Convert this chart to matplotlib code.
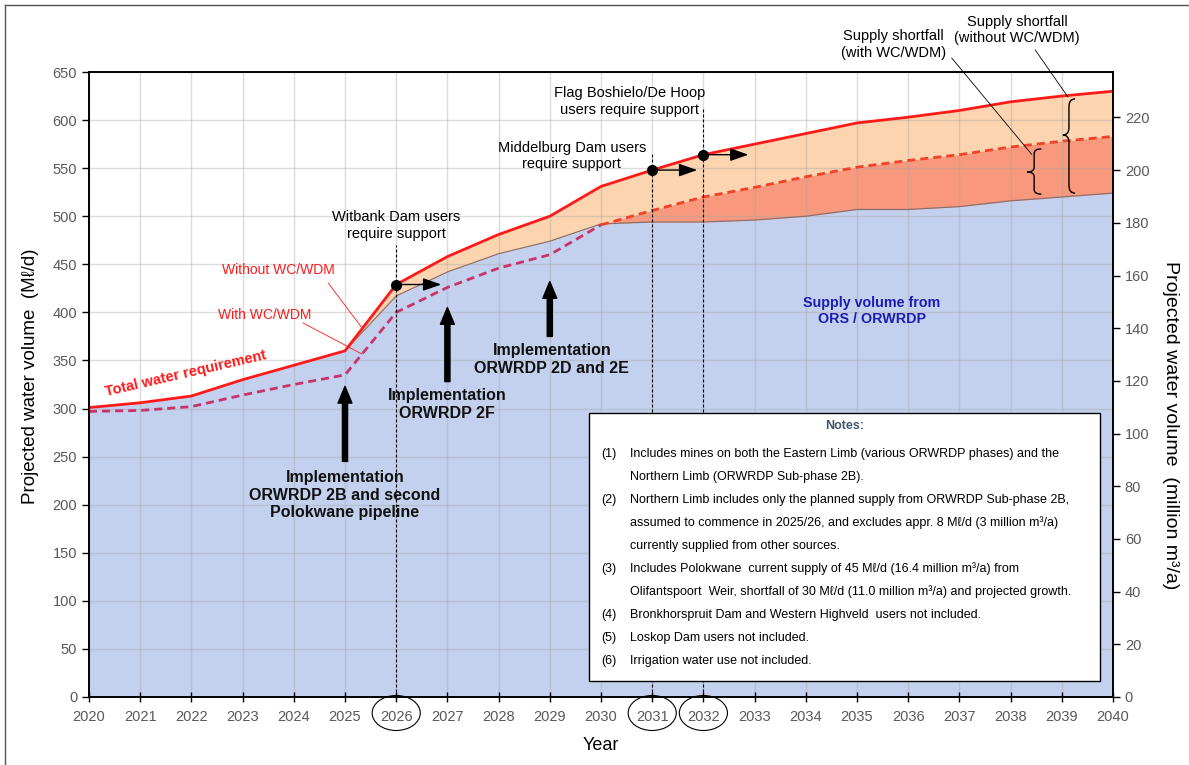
import matplotlib
matplotlib.use("Agg")
import matplotlib.pyplot as plt
import numpy as np
from matplotlib.path import Path
from matplotlib.patches import PathPatch, Ellipse, Rectangle
import matplotlib.transforms as mtrans

plt.rcParams['font.family'] = ['Liberation Sans', 'DejaVu Sans']

# ---------------- data ----------------
years = list(range(2020, 2041))
total_req = [301, 306, 313, 330, 345, 360, 429, 458, 481, 500, 531, 548, 564,
             575, 586, 597, 603, 610, 619, 625, 630]
with_wcwdm = [297, 298, 302, 314, 325, 335, 400, 426, 446, 460, 491, 506, 520,
              530, 541, 551, 558, 564, 572, 578, 583]
supply = [301, 306, 313, 330, 345, 360, 417, 442, 461, 474, 492, 494, 494,
          496, 500, 507, 507, 510, 516, 520, 524]
support_years = [2026, 2031, 2032]
support_labels = ["Witbank Dam users\nrequire support",
                  "Middelburg Dam users\nrequire support",
                  "Flag Boshielo/De Hoop\nusers require support"]
impl_years = [2025, 2027, 2029]
impl_labels = ["Implementation\nORWRDP 2B and second\nPolokwane pipeline",
               "Implementation\nORWRDP 2F",
               "Implementation\nORWRDP 2D and 2E"]
notes = [("(1)", "Includes mines on both the Eastern Limb (various ORWRDP phases) and the"),
         ("", "Northern Limb (ORWRDP Sub-phase 2B)."),
         ("(2)", "Northern Limb includes only the planned supply from ORWRDP Sub-phase 2B,"),
         ("", "assumed to commence in 2025/26, and excludes appr. 8 M\u2113/d (3 million m\u00b3/a)"),
         ("", "currently supplied from other sources."),
         ("(3)", "Includes Polokwane  current supply of 45 M\u2113/d (16.4 million m\u00b3/a) from"),
         ("", "Olifantspoort  Weir, shortfall of 30 M\u2113/d (11.0 million m\u00b3/a) and projected growth."),
         ("(4)", "Bronkhorspruit Dam and Western Highveld  users not included."),
         ("(5)", "Loskop Dam users not included."),
         ("(6)", "Irrigation water use not included.")]
yticks_left = list(range(0, 651, 50))
yticks_right = list(range(0, 221, 20))
m3_factor = 0.365

W, H = 1189, 765
fig = plt.figure(figsize=(W / 100, H / 100), dpi=100)
L, R, T, B = 89, 1113, 72, 697
ax = fig.add_axes([L / W, 1 - B / H, (R - L) / W, (B - T) / H])

def fx(px):
    return px / W

def fy(py):
    return 1 - py / H

yrs = np.array(years, float)
tot = np.array(total_req, float)
wc = np.array(with_wcwdm, float)
sup = np.array(supply, float)

BLUE = '#c3d1ef'
PEACH = '#fcd5b0'
SALMON = '#f8987c'

ax.fill_between(yrs, 0, sup, color=BLUE, lw=0, zorder=1)
ax.fill_between(yrs, sup, tot, color=PEACH, lw=0, zorder=1)
ax.fill_between(yrs, sup, wc, where=wc > sup, interpolate=True, color=SALMON, lw=0, zorder=1)
ax.plot(yrs[5:], sup[5:], color='#8a7070', lw=0.9, zorder=2)

ax.set_axisbelow('line')
ax.grid(True, color='#a6a6a6', alpha=0.4, lw=1.0)

ax.plot(yrs, tot, color='#ff1a1a', lw=2.0, zorder=4)
split = years.index(2030)
ax.plot(yrs[:split + 1], wc[:split + 1], color='#c8336a', lw=2.0,
        linestyle=(0, (2.9, 1.8)), zorder=4)
ax.plot(yrs[split:], wc[split:], color='#f0412a', lw=2.0,
        linestyle=(0, (2.9, 1.8)), zorder=4)

ax.set_xlim(2020, 2040)
ax.set_ylim(0, 650)
ax.set_xticks(years)
ax.set_yticks(yticks_left)
ax.tick_params(axis='y', direction='out', length=5, labelsize=10.5, labelcolor='#595959', width=1)
ax.tick_params(axis='x', direction='inout', length=7, labelsize=10.5, labelcolor='#595959', width=1, pad=6)
for s in ax.spines.values():
    s.set_linewidth(1.2)
    s.set_color('black')

ax2 = ax.twinx()
ax2.set_ylim(0, 650 * m3_factor)
ax2.set_yticks(yticks_right)
ax2.tick_params(axis='y', direction='out', length=5, labelsize=10.5, labelcolor='#595959', width=1)
for s in ax2.spines.values():
    s.set_linewidth(1.2)

fig.text(fx(31), fy(376), "Projected water volume  (M\u2113/d)", rotation=90,
         ha='center', va='center', fontsize=13.5)
fig.text(fx(1171), fy(425), "Projected water volume  (million m\u00b3/a)", rotation=270,
         ha='center', va='center', fontsize=14)
fig.text(fx(601), fy(746), "Year", ha='center', va='center', fontsize=13)

# circles around key years
btrans = mtrans.blended_transform_factory(ax.transData, fig.transFigure)
for yv in support_years:
    e = Ellipse((yv, fy(713)), 0.94, 35 / H, transform=btrans, fill=False,
                edgecolor='black', lw=0.8, clip_on=False)
    fig.add_artist(e)

# support annotations
text_pos = [(2026.0, 490), (2029.43, 562.7), (2030.55, 619)]
vline_top = [470, 567, 614]
for yv, lab, tp, vt in zip(support_years, support_labels, text_pos, vline_top):
    val = tot[years.index(yv)]
    ax.plot([yv, yv], [0, vt], color='black', lw=0.8, linestyle=(0, (2.7, 1.8)), zorder=5)
    ax.plot([yv], [val], 'o', color='black', ms=7, zorder=7)
    ax.annotate('', xy=(yv + 0.88, val), xytext=(yv, val),
                arrowprops=dict(arrowstyle='-|>,head_width=0.28,head_length=0.8',
                                color='black', lw=1.0, mutation_scale=14,
                                shrinkA=0, shrinkB=0), zorder=7)
    ax.text(tp[0], tp[1], lab, ha='center', va='center', fontsize=10.5,
            linespacing=1.25, zorder=8)

# implementation arrows
impl_arrow = [(245, 323), (328, 405), (375, 432)]
impl_text = [(2025.0, 210), (2027.0, 304), (2029.04, 351)]
for yv, lab, (a0, a1), tp in zip(impl_years, impl_labels, impl_arrow, impl_text):
    ax.annotate('', xy=(yv, a1), xytext=(yv, a0),
                arrowprops=dict(arrowstyle='simple,head_width=1.0,head_length=1.2,tail_width=0.37',
                                color='black', mutation_scale=10, shrinkA=0, shrinkB=0), zorder=6)
    ax.text(tp[0], tp[1], lab, ha='center', va='center', fontsize=11.5,
            fontweight='bold', linespacing=1.2, color='#111111', zorder=8)

# labels for lines
ax.text(2021.89, 336, "Total water requirement", color='#ff1a1a', fontsize=10.5,
        fontweight='bold', rotation=13, ha='center', va='center', zorder=8)
ax.text(2023.69, 444, "Without WC/WDM", color='#ff1a1a', fontsize=10,
        ha='center', va='center', zorder=8)
ax.plot([2024.67, 2025.33], [430.6, 384], color='#ff1a1a', lw=0.6, zorder=8)
ax.text(2023.44, 397, "With WC/WDM", color='#ff1a1a', fontsize=10,
        ha='center', va='center', zorder=8)
ax.plot([2024.18, 2025.33], [389, 356.7], color='#ff1a1a', lw=0.6, zorder=8)

ax.text(2035.29, 401.5, "Supply volume from\nORS / ORWRDP", color='#1c1cb4', fontsize=10.3,
        fontweight='bold', ha='center', va='center', linespacing=1.2, zorder=8)

# shortfall labels
ax.text(2035.72, 678.6, "Supply shortfall\n(with WC/WDM)", ha='center', va='center',
        fontsize=10.5, linespacing=1.2, clip_on=False, zorder=8)
ax.text(2038.13, 694, "Supply shortfall\n(without WC/WDM)", ha='center', va='center',
        fontsize=10.5, linespacing=1.2, clip_on=False, zorder=8)
ax.plot([2036.85, 2038.41], [664.6, 564.4], color='black', lw=0.6, clip_on=False, zorder=8)
ax.plot([2038.48, 2039.12], [673, 624], color='black', lw=0.6, clip_on=False, zorder=8)


def brace(xb, y0, y1, ym, w):
    r = 0.06 * (y1 - y0) + 2
    verts = [(xb + w / 2, y1), (xb, y1), (xb, y1 - r),
             (xb, ym + r), (xb, ym), (xb - w / 2, ym),
             (xb, ym), (xb, ym - r),
             (xb, y0 + r), (xb, y0), (xb + w / 2, y0)]
    codes = [Path.MOVETO, Path.CURVE3, Path.CURVE3,
             Path.LINETO, Path.CURVE3, Path.CURVE3,
             Path.CURVE3, Path.CURVE3,
             Path.LINETO, Path.CURVE3, Path.CURVE3]
    ax.add_patch(PathPatch(Path(verts, codes), fill=False, lw=1.0, edgecolor='black', zorder=8))

brace(2038.46, 523, 570, 546, 0.28)
brace(2039.14, 524, 622, 584.5, 0.24)

# notes box
ax.add_patch(Rectangle((2029.77, 16.6), 9.98, 278.4, facecolor='white',
                       edgecolor='black', lw=1.0, zorder=9))
fig.text(fx(845), fy(426), "Notes:", ha='center', va='center', fontsize=9,
         fontweight='bold', color='#44546a', zorder=10)
note_y = [454, 477, 500, 523, 546, 569, 592, 615, 638, 661]
for (num, txt), py in zip(notes, note_y):
    if num:
        fig.text(fx(601), fy(py), num, ha='left', va='center', fontsize=9, zorder=10)
    fig.text(fx(630), fy(py), txt, ha='left', va='center', fontsize=9, zorder=10)

# outer frame lines (left and top)
fig.add_artist(plt.Line2D([fx(5), fx(5)], [fy(5), 0], color='#555555', lw=1.0))
fig.add_artist(plt.Line2D([fx(5), 1], [fy(5), fy(5)], color='#555555', lw=1.0))

fig.savefig("out.png", dpi=100)
